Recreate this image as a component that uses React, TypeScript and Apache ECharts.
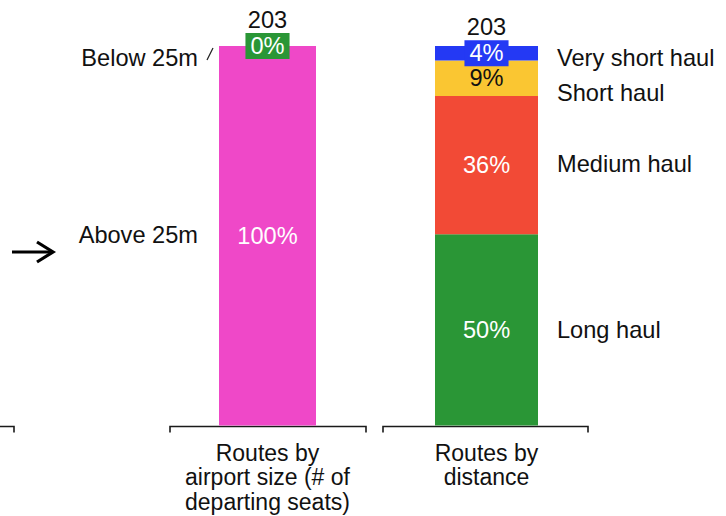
import React, { useEffect, useRef } from "react";
import * as echarts from "echarts";

const categories = ["Routes by\nairport size (# of\ndeparting seats)", "Routes by\ndistance"];
const sizeNames = ["Above 25m", "Below 25m"];
const sizeValues = [100, 0];
const distanceNames = ["Long haul", "Medium haul", "Short haul", "Very short haul"];
const distanceValues = [50.4, 36.4, 9.4, 3.8];
const totals = [203, 203];

const PINK = "#EF48C8";
const GREEN = "#2A9636";
const RED = "#F24A36";
const YELLOW = "#FAC632";
const BLUE = "#2439F4";
const TXT = "#111111";
const FONT = "Liberation Sans";
const FS = 23.6;

const sizeColors = [PINK, GREEN];
const distanceColors = [GREEN, RED, YELLOW, BLUE];
const distanceTextColors = ["#fff", "#fff", TXT, "#fff"];
const sizeNameOffsets = [[0, -1], [0, 11.5]];
const distanceNameOffsets = [[0, 0], [0, -1], [0, 15], [0, 5]];

const pct = (p: any) => `${Math.round(p.value)}%`;

export default function App() {
  const ref = useRef<HTMLDivElement>(null);
  useEffect(() => {
    document.body.style.margin = "0";
    const chart = echarts.init(ref.current!, null, { renderer: "svg" });
    const baseLabel = { fontFamily: FONT, fontSize: FS };

    const sizeSeries: any[] = sizeNames.map((n, i) => ({
      name: n,
      type: "bar",
      xAxisIndex: 0,
      stack: "size",
      barWidth: 97,
      data: [sizeValues[i], "-"],
      itemStyle: { color: sizeColors[i] },
      label: {
        show: true,
        position: "inside",
        color: "#fff",
        ...baseLabel,
        formatter: pct,
        ...(i === 1 ? { backgroundColor: GREEN, padding: [1, 5, 1, 5] } : {}),
      },
    }));
    sizeSeries.push({
      name: "size total",
      type: "bar",
      xAxisIndex: 0,
      stack: "size",
      barWidth: 97,
      data: [0, "-"],
      itemStyle: { color: "transparent" },
      label: { show: true, position: "top", distance: 14.5, color: TXT, ...baseLabel, formatter: () => String(totals[0]) },
    });

    const distSeries: any[] = distanceNames.map((n, i) => ({
      name: n,
      type: "bar",
      xAxisIndex: 1,
      stack: "dist",
      barWidth: 103,
      data: ["-", distanceValues[i]],
      itemStyle: { color: distanceColors[i] },
      label: {
        show: true,
        position: "inside",
        color: distanceTextColors[i],
        ...baseLabel,
        formatter: pct,
        ...(i === 3 ? { backgroundColor: BLUE, padding: [1, 5, 1, 5] } : {}),
      },
    }));
    distSeries.push({
      name: "dist total",
      type: "bar",
      xAxisIndex: 1,
      stack: "dist",
      barWidth: 103,
      data: ["-", 0],
      itemStyle: { color: "transparent" },
      label: { show: true, position: "top", distance: 7.5, color: TXT, ...baseLabel, formatter: () => String(totals[1]) },
    });

    const ghostSeries: any[] = [
      ...sizeNames.map((n, i) => ({
        name: "ghost " + n,
        type: "bar",
        xAxisIndex: 2,
        stack: "ghost",
        barWidth: 100,
        silent: true,
        data: [sizeValues[i], "-"],
        itemStyle: { color: "transparent" },
        label: { show: true, position: "left", distance: 19.5, offset: sizeNameOffsets[i], color: TXT, ...baseLabel, formatter: () => n },
      })),
      ...distanceNames.map((n, i) => ({
        name: "ghost " + n,
        type: "bar",
        xAxisIndex: 2,
        stack: "ghost",
        barWidth: 100,
        silent: true,
        data: ["-", distanceValues[i]],
        itemStyle: { color: "transparent" },
        label: { show: true, position: "right", distance: 20.5, offset: distanceNameOffsets[i], color: TXT, ...baseLabel, formatter: () => n },
      })),
    ];

    const hiddenAxis = { type: "category", data: categories, show: false, gridIndex: 0 };
    chart.setOption({
      animation: false,
      textStyle: { fontFamily: FONT },
      grid: { left: 158, right: 130, top: 46, bottom: 90.5 },
      xAxis: [
        {
          type: "category",
          data: categories,
          axisLine: { show: false },
          axisTick: { show: false },
          axisLabel: { color: TXT, fontFamily: FONT, fontSize: 23, lineHeight: 24.5, margin: 15, interval: 0 },
        },
        hiddenAxis,
        hiddenAxis,
      ],
      yAxis: { type: "value", min: 0, max: 100, show: false, splitLine: { show: false } },
      series: [...sizeSeries, ...distSeries, ...ghostSeries],
    });

    const c0 = chart.convertToPixel({ xAxisIndex: 0 }, 0) as number;
    const c1 = chart.convertToPixel({ xAxisIndex: 0 }, 1) as number;
    const base = (chart.convertToPixel({ yAxisIndex: 0 }, 0) as number) + 1;
    const top = chart.convertToPixel({ yAxisIndex: 0 }, 100) as number;
    const bracket = (x1: number, x2: number) => ({
      type: "polyline",
      shape: { points: [[x1, base + 6], [x1, base], [x2, base], [x2, base + 6]] },
      style: { stroke: "#1a1a1a", lineWidth: 1.6, fill: null },
      silent: true,
    });
    const barLeft = c0 - 48.5;
    chart.setOption({
      graphic: [
        bracket(-30, c0 - 253.5),
        bracket(c0 - 97.5, c0 + 98.5),
        bracket(c1 - 103.5, c1 + 101.5),
        {
          type: "line",
          shape: { x1: barLeft - 12, y1: top + 14, x2: barLeft - 6, y2: top + 2 },
          style: { stroke: "#222", lineWidth: 1.2 },
          silent: true,
        },
        {
          type: "line",
          shape: { x1: 12, y1: 252, x2: 52, y2: 252 },
          style: { stroke: "#000", lineWidth: 3.2 },
          silent: true,
        },
        {
          type: "polyline",
          shape: { points: [[37, 242], [53, 252], [37, 262]] },
          style: { stroke: "#000", lineWidth: 3.2, fill: null, lineJoin: "miter" },
          silent: true,
        },
      ],
    });
    return () => chart.dispose();
  }, []);
  return <div ref={ref} style={{ width: 726, height: 516 }} />;
}
